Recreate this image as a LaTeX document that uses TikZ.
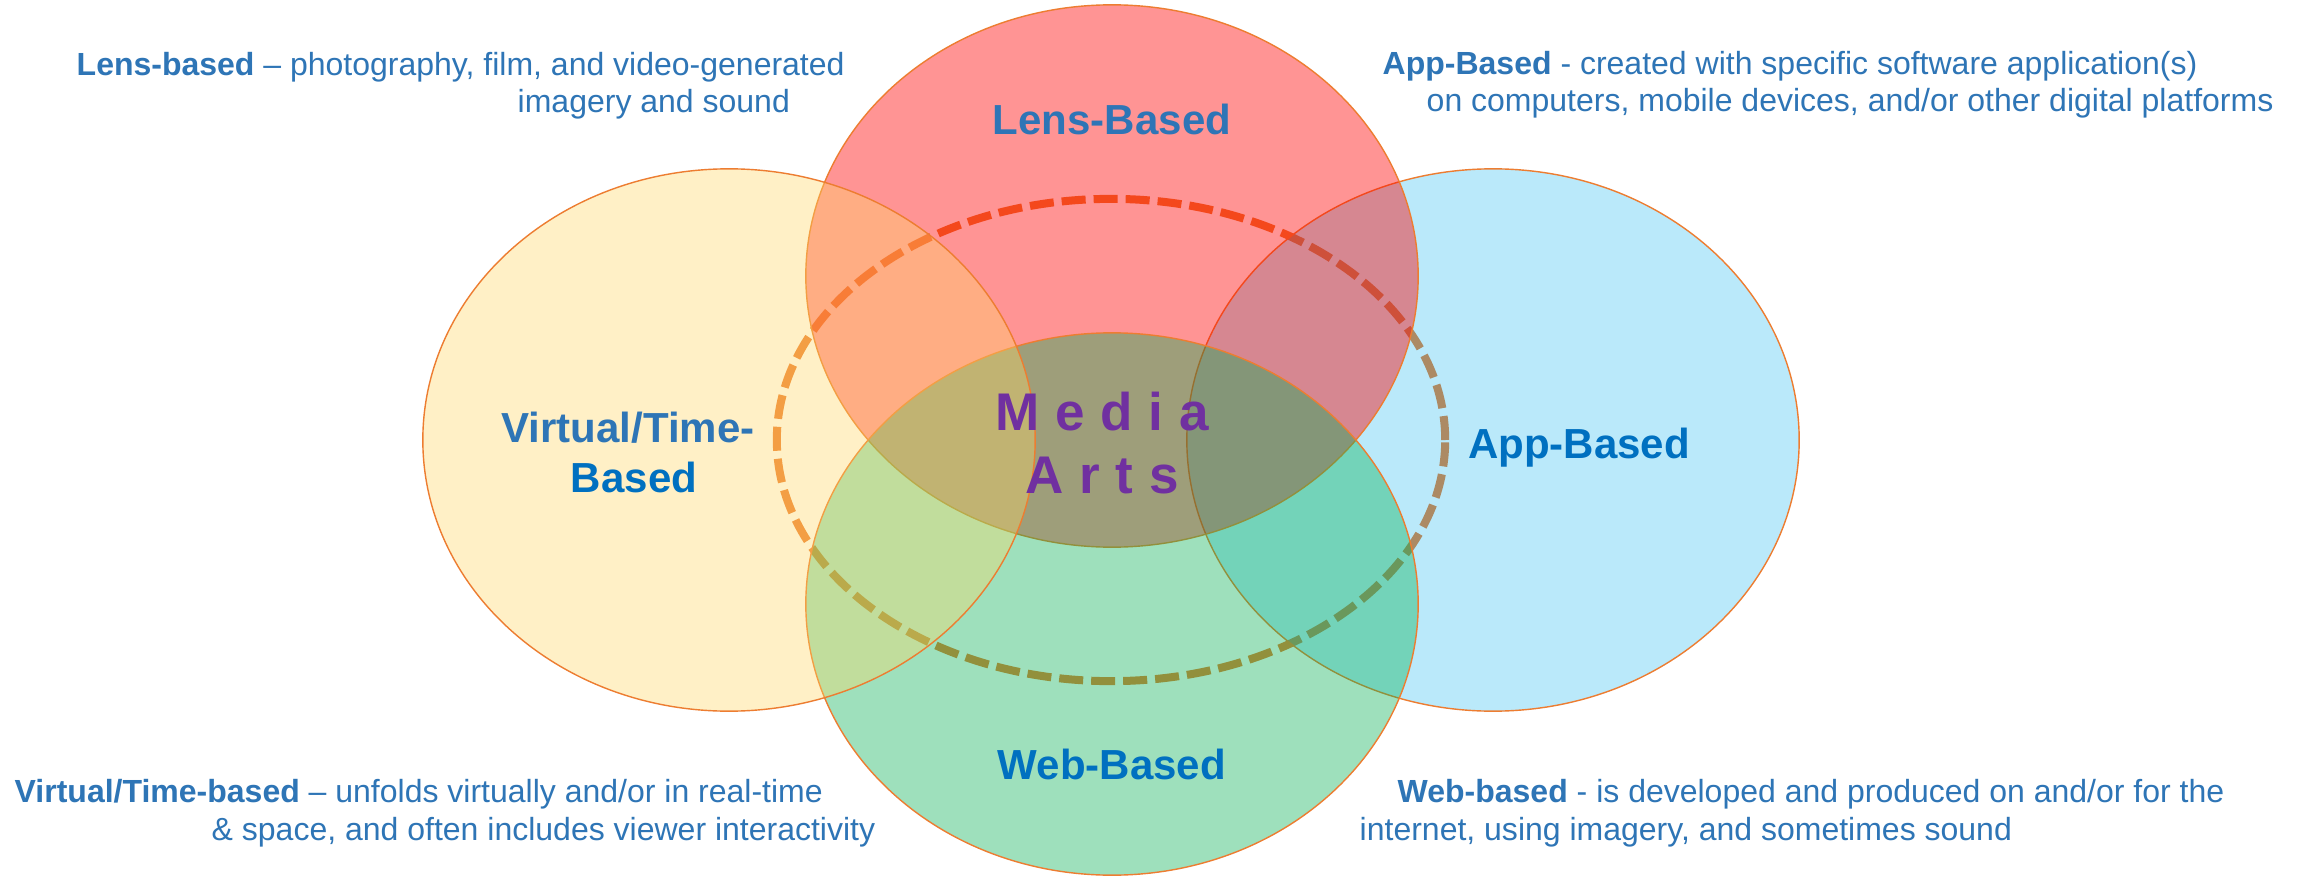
\documentclass[tikz,border=0pt]{standalone}
\usepackage{fontspec}
\setmainfont{Liberation Sans}
\definecolor{ringorange}{HTML}{ED7D31}
\definecolor{lensred}{HTML}{FF0000}
\definecolor{webgreen}{HTML}{00B050}
\definecolor{appblue}{HTML}{00B0F0}
\definecolor{virtyellow}{HTML}{FFD966}
\definecolor{descblue}{HTML}{2E75B6}
\definecolor{labelblue}{HTML}{0070C0}
\definecolor{mediapurple}{HTML}{7030A0}
\newcommand\lsgap{\hspace{0.3em}}
\begin{document}
\begin{tikzpicture}[x=0.01cm,y=-0.01cm,
  setshape/.style={draw=ringorange, line width=0.4pt},
  ring/.style={draw=ringorange, line width=0.08cm, dash pattern=on 0.24cm off 0.08cm},
  desc/.style={font=\fontsize{9.1pt}{11pt}\selectfont, text=descblue, inner sep=0pt, anchor=base west},
  setlabel/.style={font=\fontsize{11.95pt}{14pt}\selectfont\bfseries, inner sep=0pt, anchor=base},
  medialabel/.style={font=\fontsize{15.08pt}{18pt}\selectfont\bfseries, text=mediapurple, inner sep=0pt, anchor=base}]
\useasboundingbox (0,0) rectangle (2300,876);
\fill[white] (0,0) rectangle (2300,876);

% dashed ring round the shared core, seen through the tinted sets
\draw[ring] (1111,440) ellipse [x radius=3.34cm, y radius=2.41cm];

% the four translucent sets
\draw[setshape, fill=appblue, fill opacity=0.27] (1493,440) ellipse [x radius=3.06cm, y radius=2.71cm];
\draw[setshape, fill=lensred, fill opacity=0.42] (1112,276) ellipse [x radius=3.06cm, y radius=2.71cm];
\draw[setshape, fill=webgreen, fill opacity=0.38] (1112,604) ellipse [x radius=3.06cm, y radius=2.71cm];
\draw[setshape, fill=virtyellow, fill opacity=0.37] (729,440) ellipse [x radius=3.06cm, y radius=2.71cm];

% set labels
\node[setlabel, text=descblue] (lens) at (1112,135) {Lens-Based};
\node[setlabel, text=descblue] (virt1) at (628,442) {Virtual/Time-};
\node[setlabel, text=labelblue] (virt2) at (634,492) {Based};
\node[setlabel, text=labelblue] (app) at (1579,458) {App-Based};
\node[setlabel, text=labelblue] (web) at (1112,779) {Web-Based};

% centre
\node[medialabel] (media) at (1102,430) {M\lsgap e\lsgap d\lsgap i\lsgap a};
\node[medialabel] (arts) at (1102,493) {A\lsgap r\lsgap t\lsgap s};

% descriptions
\node[desc] (lensd1) at (76,76) {\textbf{Lens-based} – photography, film, and video-generated};
\node[desc] (lensd2) at (517,113) {imagery and sound};
\node[desc] (appd1) at (1382,75) {\textbf{App-Based} - created with specific software application(s)};
\node[desc] (appd2) at (1426,112) {on computers, mobile devices, and/or other digital platforms};
\node[desc] (virtd1) at (14,802) {\textbf{Virtual/Time-based} – unfolds virtually and/or in real-time};
\node[desc] (virtd2) at (211,840) {\& space, and often includes viewer interactivity};
\node[desc] (webd1) at (1397,802) {\textbf{Web-based} - is developed and produced on and/or for the};
\node[desc] (webd2) at (1359,840) {internet, using imagery, and sometimes sound};
\end{tikzpicture}
\end{document}
